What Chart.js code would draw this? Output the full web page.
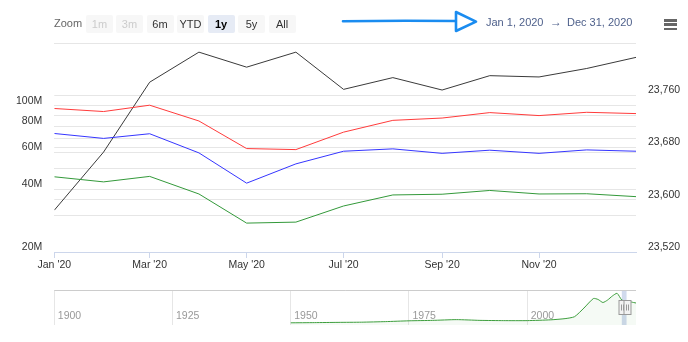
<!DOCTYPE html>
<html>
<head>
<meta charset="utf-8">
<script src="https://cdn.jsdelivr.net/npm/chart.js@4.4.0/dist/chart.umd.min.js"></script>
<style>
  html, body { margin: 0; padding: 0; background: #fff; }
  #wrap { position: relative; width: 688px; height: 342px; overflow: hidden;
          font-family: "Liberation Sans", Arial, sans-serif; }
  #mainChart { position: absolute; left: 0; top: 0; }
  #navChart { position: absolute; left: 0; top: 285px; }
  .rs-label { position: absolute; left: 54px; top: 17px; font-size: 11px; color: #666; }
  .rs-btn { position: absolute; top: 15px; width: 27px; height: 18px; line-height: 18px;
            text-align: center; font-size: 11px; color: #333; background: #f7f7f7; border-radius: 2px; }
  .rs-btn.off { color: #ccc; }
  .rs-btn.on { background: #e6ebf5; color: #000; font-weight: bold; }
  .rs-date { position: absolute; top: 16px; font-size: 11px; color: #4d5f8a; }
  .menu-bar { position: absolute; left: 664px; width: 13px; height: 2.5px; background: #666; }
</style>
</head>
<body>
<div id="wrap">
  <canvas id="mainChart" width="688" height="280"></canvas>
  <canvas id="navChart" width="688" height="45"></canvas>

  <div class="rs-label">Zoom</div>
  <div id="buttons"></div>

  <svg style="position:absolute;left:0;top:0" width="688" height="40">
    <path d="M343 21.2 C 380 20.6, 420 20.6, 456 21" stroke="#1a8cf0" stroke-width="2.6" fill="none" stroke-linecap="round"/>
    <path d="M456 12 L476 21.6 L456 31 Z" stroke="#1a8cf0" stroke-width="2.6" fill="#fff" stroke-linejoin="round"/>
  </svg>
  <div class="rs-date" style="left:486px">Jan 1, 2020</div>
  <div class="rs-date" style="left:550px;font-size:12px;top:15px">→</div>
  <div class="rs-date" style="left:567px">Dec 31, 2020</div>

  <div class="menu-bar" style="top:19px"></div>
  <div class="menu-bar" style="top:23px"></div>
  <div class="menu-bar" style="top:27.5px"></div>
</div>

<script>
// range selector buttons
const buttonLabels = ['1m', '3m', '6m', 'YTD', '1y', '5y', 'All'];
const buttonLeft = [86, 116, 146.5, 177, 207.5, 238, 268.5];
const buttonState = ['off', 'off', '', '', 'on', '', ''];

// monthly points, x in days since Jan 1 2020
const monthDays = [0, 31, 60, 91, 121, 152, 182, 213, 244, 274, 305, 335, 366];
const tickDays = [0, 60, 121, 182, 244, 305];
const tickNames = ["Jan '20", "Mar '20", "May '20", "Jul '20", "Sep '20", "Nov '20"];

// left (log) axis series, millions
const redSeries = [97.2, 94.0, 100.8, 84.7, 62.5, 61.8, 74.9, 85.3, 87.5, 92.9, 89.9, 93.2, 91.9];
const blueSeries = [73.8, 69.9, 73.6, 59.6, 42.7, 52.8, 60.7, 62.3, 59.3, 61.4, 59.3, 61.6, 60.7];
const greenSeries = [45.8, 43.3, 46.0, 37.9, 27.5, 27.8, 33.2, 37.5, 37.8, 39.4, 37.9, 38.0, 36.8];
// right axis series
const blackSeries = [23584, 23673, 23780, 23826, 23803, 23826, 23769, 23787, 23768, 23790, 23788, 23801, 23818];

const leftGrid = [20, 30, 40, 50, 60, 70, 80, 90, 100, 200];
const leftLabels = [20, 40, 60, 80, 100];
const rightTicks = [23520, 23600, 23680, 23760, 23840];

// navigator history
const navYears = [1950, 1955, 1960, 1965, 1970, 1975, 1980, 1985, 1990, 1995, 2000, 2005, 2008,
                  2010, 2012, 2014, 2015, 2016, 2017, 2018, 2019, 2020, 2021, 2022, 2023];
const navValues = [3.5, 3.8, 4.2, 4.5, 5.4, 6.7, 7.4, 8.6, 7.4, 7.0, 7.0, 8.3, 10.2,
                   13.3, 27.2, 42.4, 40.8, 36.0, 40.0, 46.4, 50.7, 40.0, 38.4, 36.8, 35.2];
const navTicks = [1900, 1925, 1950, 1975, 2000];
const selectedYears = [2020, 2021];

const btnBox = document.getElementById('buttons');
buttonLabels.forEach((t, i) => {
    const b = document.createElement('div');
    b.className = 'rs-btn ' + buttonState[i];
    b.style.left = buttonLeft[i] + 'px';
    b.textContent = t;
    btnBox.appendChild(b);
});

const font = { family: '"Liberation Sans", Arial, sans-serif', size: 10.5 };
const toPoints = (xs, ys, k) => xs.map((x, i) => ({ x: x, y: ys[i] * k }));
const line = (label, data, color, axis) => ({
    label, data, yAxisID: axis, borderColor: color, borderWidth: 1,
    pointRadius: 0, tension: 0, fill: false
});

new Chart(document.getElementById('mainChart'), {
    type: 'line',
    data: {
        datasets: [
            line('Red', toPoints(monthDays, redSeries, 1e6), '#ff3b3b', 'yL'),
            line('Blue', toPoints(monthDays, blueSeries, 1e6), '#3535ff', 'yL'),
            line('Green', toPoints(monthDays, greenSeries, 1e6), '#33993a', 'yL'),
            line('Black', toPoints(monthDays, blackSeries, 1), '#3a3a3a', 'yR')
        ]
    },
    options: {
        responsive: false,
        animation: false,
        devicePixelRatio: 1,
        layout: { padding: { top: 43, left: 0, right: 0, bottom: 0 } },
        plugins: { legend: { display: false }, tooltip: { enabled: false } },
        scales: {
            x: {
                type: 'linear', min: 0, max: 366,
                afterBuildTicks: (s) => { s.ticks = tickDays.map(v => ({ value: v })); },
                afterFit: (s) => { s.height = 28; },
                grid: { drawOnChartArea: false, drawTicks: true, tickLength: 6, color: '#ccd6eb' },
                border: { color: '#ccd6eb' },
                ticks: {
                    autoSkip: false, maxRotation: 0, padding: 1, color: '#333', font,
                    callback: (v) => tickNames[tickDays.indexOf(v)]
                }
            },
            yL: {
                type: 'logarithmic', position: 'left', min: 20e6, max: 200e6,
                afterBuildTicks: (s) => { s.ticks = leftGrid.map(v => ({ value: v * 1e6 })); },
                afterFit: (s) => { s.width = 54.3; },
                grid: { color: '#e6e6e6', drawTicks: false },
                border: { display: false },
                ticks: {
                    padding: 12, labelOffset: -5, color: '#333', font,
                    callback: (v) => leftLabels.includes(v / 1e6) ? (v / 1e6) + 'M' : ''
                }
            },
            yR: {
                type: 'linear', position: 'right', min: 23520, max: 23840,
                afterBuildTicks: (s) => { s.ticks = rightTicks.map(v => ({ value: v })); },
                afterFit: (s) => { s.width = 52; },
                grid: { color: '#e6e6e6', drawTicks: false },
                border: { display: false },
                ticks: {
                    padding: 12, labelOffset: -5, color: '#333', font,
                    callback: (v) => v === 23840 ? '' : v.toLocaleString('en-US')
                }
            }
        }
    }
});

// navigator outline, year labels inside the plot, selected range mask and handles
const navDecor = {
    id: 'navDecor',
    beforeDatasetsDraw(chart) {
        const { ctx, chartArea: a, scales: { x } } = chart;
        ctx.save();
        const x0 = x.getPixelForValue(selectedYears[0]);
        const x1 = x.getPixelForValue(selectedYears[1]);
        ctx.fillStyle = 'rgba(102,133,194,0.3)';
        ctx.fillRect(x0, a.top, x1 - x0, a.bottom - a.top);
        ctx.strokeStyle = '#cccccc';
        ctx.lineWidth = 1;
        ctx.beginPath();
        ctx.moveTo(a.left, a.top + 0.5);
        ctx.lineTo(a.right, a.top + 0.5);
        ctx.stroke();

        ctx.fillStyle = '#999';
        ctx.font = '10.5px "Liberation Sans", Arial, sans-serif';
        ctx.textAlign = 'left';
        ctx.textBaseline = 'middle';
        navTicks.forEach(yr => {
            ctx.fillText(String(yr), x.getPixelForValue(yr) + 3.5, a.bottom - 8.5);
        });
        ctx.restore();
    },
    afterDatasetsDraw(chart) {
        const { ctx, chartArea: a, scales: { x } } = chart;
        const mid = (a.top + a.bottom) / 2;
        ctx.save();
        selectedYears.forEach(yr => {
            const px = Math.round(x.getPixelForValue(yr)) + 0.5;
            ctx.fillStyle = '#f2f2f2';
            ctx.strokeStyle = '#999';
            ctx.lineWidth = 1;
            ctx.fillRect(px - 3.5, mid - 7, 7, 14);
            ctx.strokeRect(px - 3.5, mid - 7, 7, 14);
            ctx.beginPath();
            ctx.moveTo(px - 1, mid - 3); ctx.lineTo(px - 1, mid + 3);
            ctx.moveTo(px + 1, mid - 3); ctx.lineTo(px + 1, mid + 3);
            ctx.stroke();
        });
        ctx.restore();
    }
};

new Chart(document.getElementById('navChart'), {
    type: 'line',
    data: {
        datasets: [{
            data: toPoints(navYears, navValues, 1),
            borderColor: '#3d9e3d', borderWidth: 1, pointRadius: 0, tension: 0.2,
            fill: 'origin', backgroundColor: 'rgba(51,153,51,0.05)'
        }]
    },
    options: {
        responsive: false,
        animation: false,
        devicePixelRatio: 1,
        layout: { padding: { top: 5, left: 54.3, right: 52, bottom: 0 } },
        plugins: { legend: { display: false }, tooltip: { enabled: false } },
        scales: {
            x: {
                type: 'linear', min: 1900, max: 2023,
                afterBuildTicks: (s) => { s.ticks = navTicks.map(v => ({ value: v })); },
                afterFit: (s) => { s.height = 5; },
                grid: { color: '#e6e6e6', drawTicks: false },
                border: { display: false },
                ticks: { display: false }
            },
            y: { display: false, min: 0, max: 56 }
        }
    },
    plugins: [navDecor]
});
</script>
</body>
</html>
